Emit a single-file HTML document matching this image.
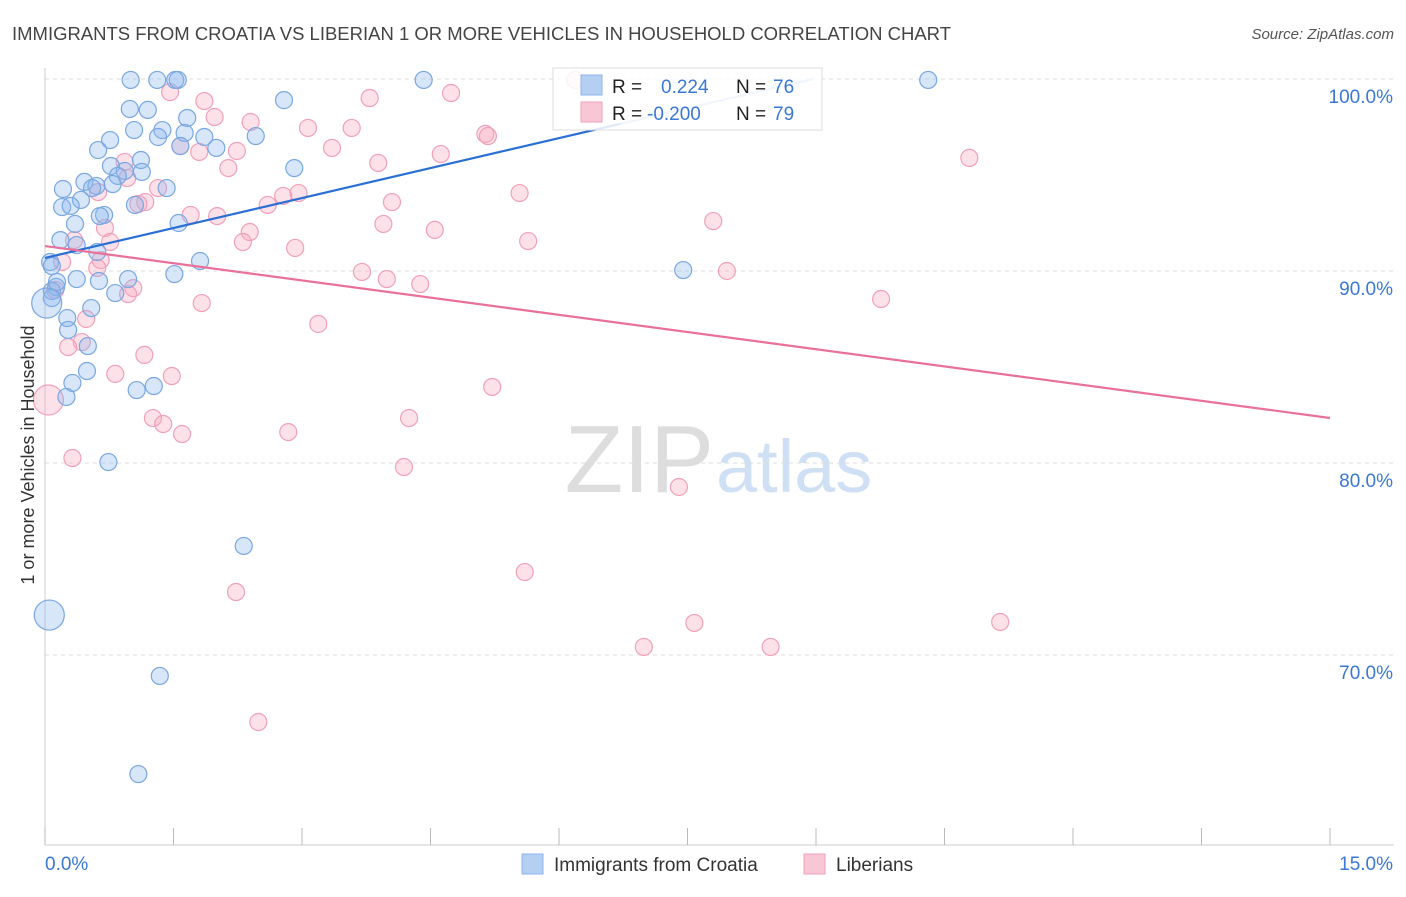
<!DOCTYPE html>
<html><head><meta charset="utf-8"><style>
body{margin:0;background:#fff;font-family:"Liberation Sans",sans-serif;}
svg text{font-family:"Liberation Sans",sans-serif;}
</style></head><body>
<svg id="chart" width="1406" height="892">
<text x="12" y="40" font-size="18" fill="#444" textLength="939" lengthAdjust="spacingAndGlyphs">IMMIGRANTS FROM CROATIA VS LIBERIAN 1 OR MORE VEHICLES IN HOUSEHOLD CORRELATION CHART</text>
<text x="1394" y="39" font-size="15" fill="#555" font-style="italic" text-anchor="end">Source: ZipAtlas.com</text>
<text x="714" y="492" font-size="96" fill="#ddd" text-anchor="end" font-family="Liberation Serif">ZIP</text>
<text x="716" y="492" font-size="74" fill="#cfe0f4">atlas</text>
<g id="grid"></g>
<g id="axes"></g>
<g id="pts"></g>
<g id="lines"></g>
<text transform="translate(34,455) rotate(-90)" font-size="18" fill="#333" text-anchor="middle">1 or more Vehicles in Household</text>
<g>
<rect x="553" y="68" width="269" height="62" fill="#fff" fill-opacity="0.85" stroke="#ddd"/>
<rect x="581" y="75" width="21" height="20" fill="#b5cff3" stroke="#8db3e8"/>
<rect x="581" y="102" width="21" height="20" fill="#f9c6d5" stroke="#f0a0bb"/>
<text x="612" y="93" font-size="19" fill="#222">R = </text><text x="661" y="93" font-size="19" fill="#3a78d4">0.224</text>
<text x="736" y="93" font-size="19" fill="#222">N = </text><text x="773" y="93" font-size="19" fill="#3a78d4">76</text>
<text x="612" y="120" font-size="19" fill="#222">R = </text><text x="647" y="120" font-size="19" fill="#3a78d4">-0.200</text>
<text x="736" y="120" font-size="19" fill="#222">N = </text><text x="773" y="120" font-size="19" fill="#3a78d4">79</text>
</g>
<g>
<rect x="522" y="854" width="21" height="20" fill="#b5cff3" stroke="#8db3e8"/>
<text x="554" y="871" font-size="19" fill="#333">Immigrants from Croatia</text>
<rect x="804" y="854" width="21" height="20" fill="#f9c6d5" stroke="#f0a0bb"/>
<text x="836" y="871" font-size="19" fill="#333">Liberians</text>
</g>
</svg>
<script>
const xTicks=[0,1.5,3,4.5,6,7.5,9,10.5,12,13.5,15];
const yTicks=[100,90,80,70];
const yTickLabels=["100.0%","90.0%","80.0%","70.0%"];
const blueX=[1.00,1.31,1.52,1.55,4.42,10.31,2.79,0.99,1.20,1.66,1.04,1.37,1.32,1.63,1.86,2.46,0.76,1.58,2.00,0.62,1.12,0.77,0.93,0.85,2.91,1.13,0.46,0.60,0.21,0.55,0.79,1.42,0.42,0.20,0.30,1.05,0.69,0.64,1.56,0.35,0.18,0.37,0.61,1.81,0.06,0.08,7.45,1.51,0.37,0.97,0.63,0.13,0.08,0.82,0.08,0.02,0.54,0.26,0.27,0.50,0.49,0.32,1.27,1.07,0.25,0.74,2.32,0.05,1.34,1.09,0.14];
const blueY=[99.95,99.95,99.95,99.95,99.95,99.95,98.9,98.44,98.39,97.97,97.34,97.34,96.98,97.19,96.98,97.03,96.82,96.51,96.41,96.30,95.78,95.47,95.21,94.95,95.36,95.16,94.64,94.43,94.27,94.32,94.53,94.32,93.70,93.33,93.39,93.44,92.92,92.86,92.5,92.45,91.61,91.35,90.99,90.52,90.47,90.26,90.05,89.84,89.58,89.58,89.48,89.17,88.96,88.85,88.59,88.33,88.07,87.55,86.93,86.09,84.79,84.17,84.01,83.80,83.44,80.05,75.68,72.08,68.91,63.80,89.43];
const blueBig=[55,67];
const pinkX=[6.19,1.46,4.74,3.79,1.86,1.98,2.40,3.07,3.58,5.14,5.17,1.58,3.35,1.80,2.24,4.62,3.89,0.93,10.79,2.14,0.96,1.32,0.62,2.78,2.96,5.54,1.17,1.09,4.05,2.60,2.01,1.70,7.80,0.70,3.95,4.55,2.39,0.76,2.31,5.64,2.92,0.34,0.65,0.20,0.61,3.70,7.96,3.99,4.38,1.03,0.97,0.12,9.76,1.83,0.48,3.19,0.43,0.27,1.16,1.48,0.82,5.22,1.26,1.38,1.60,4.25,2.84,0.32,4.19,7.40,5.60,2.23,7.58,11.15,6.99,8.47,2.49,0.04];
const pinkY=[99.95,99.32,99.27,99.01,98.85,98.02,97.76,97.45,97.45,97.14,97.03,96.51,96.41,96.20,96.25,96.09,95.63,95.68,95.89,95.36,94.84,94.32,94.11,93.91,94.06,94.06,93.59,93.49,93.59,93.44,92.86,92.92,92.60,92.24,92.45,92.14,92.03,91.51,91.51,91.56,91.20,91.61,90.57,90.47,90.16,89.95,90.0,89.58,89.32,89.11,88.80,89.01,88.54,88.33,87.50,87.24,86.30,86.04,85.63,84.53,84.64,83.96,82.34,82.03,81.51,82.34,81.61,80.26,79.79,78.75,74.32,73.28,71.67,71.72,70.42,70.42,66.51,83.28];
const pinkBig=[77];
const blueTrend=[90.68,1.04];   // intercept, slope per 1%
const pinkTrend=[91.30,-0.597];
const NS="http://www.w3.org/2000/svg";
const X=v=>45+v/15*1285, Y=v=>79+(100-v)*19.2;
function mk(tag,attrs,parent){const e=document.createElementNS(NS,tag);for(const k in attrs)e.setAttribute(k,attrs[k]);parent.appendChild(e);return e;}
const grid=document.getElementById('grid'),axes=document.getElementById('axes'),pts=document.getElementById('pts'),lines=document.getElementById('lines');
yTicks.forEach((t,i)=>{
 const l=mk('line',{x1:45,x2:1394,y1:Y(t),y2:Y(t),stroke:'#ddd','stroke-dasharray':'4,4'},grid);
 
 
 const tx=mk('text',{x:1393,y:Y(t)+24,'font-size':19,fill:'#3a78d4','text-anchor':'end'},axes);
 tx.textContent=yTickLabels[i];
 
 
});
const ax=mk('line',{x1:45,x2:1394,y1:845,y2:845,stroke:'#ccc'},axes);


const ay=mk('line',{x1:45,x2:45,y1:68,y2:845,stroke:'#ccc'},axes);


xTicks.forEach(t=>{
 const l=mk('line',{x1:X(t),x2:X(t),y1:828,y2:845,stroke:'#bbb'},axes);
 
 
});
const xl0=mk('text',{x:45,y:870,'font-size':19,fill:'#3a78d4'},axes);xl0.textContent='0.0%';


const xl1=mk('text',{x:1393,y:870,'font-size':19,fill:'#3a78d4','text-anchor':'end'},axes);xl1.textContent='15.0%';


function series(xs,ys,big,fill,stroke,name){
 xs.forEach((x,i)=>{
  const c=mk('circle',{cx:X(x),cy:Y(ys[i]),r:big.includes(i)?15:8.5,fill:fill,'fill-opacity':0.35,stroke:stroke,'stroke-width':1.2},pts);
  
  
 });
}
series(pinkX,pinkY,pinkBig,'#f6a8c0','#f0a0bb','point-liberians');
series(blueX,blueY,blueBig,'#8db8ee','#7aa7e0','point-croatia');
const bx2=(100-blueTrend[0])/blueTrend[1];
const bl=mk('line',{x1:X(0),y1:Y(blueTrend[0]),x2:X(Math.min(bx2*0.75,15)),y2:Y(blueTrend[0]+blueTrend[1]*Math.min(bx2*0.75,15)),stroke:'#2a6fd4','stroke-width':2.2},lines);


const bl2=mk('line',{x1:X(bx2*0.75),y1:Y(blueTrend[0]+blueTrend[1]*bx2*0.75),x2:X(bx2),y2:Y(100),stroke:'#9cc0ee','stroke-width':2.2},lines);


const pl=mk('line',{x1:X(0),y1:Y(pinkTrend[0]),x2:X(15),y2:Y(pinkTrend[0]+pinkTrend[1]*15),stroke:'#e8709a','stroke-width':2.2},lines);


</script>
</body></html>
